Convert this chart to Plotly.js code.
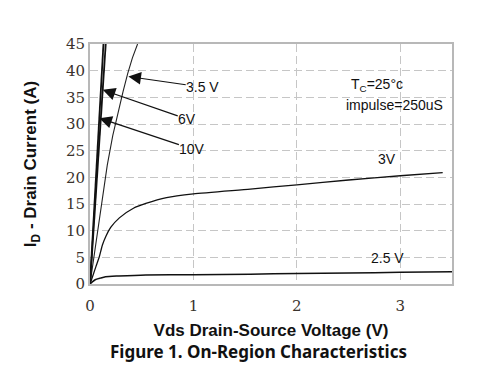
<!DOCTYPE html>
<html>
<head>
<meta charset="utf-8">
<script src="https://cdn.plot.ly/plotly-3.0.1.min.js"></script>
<style>html,body{margin:0;padding:0;background:#fff;}#chart{width:500px;height:375px;}</style>
</head>
<body>
<div id="chart"></div>
<script>
// Vgs = 2.5 V
const vds25 = [0, 0.02, 0.05, 0.1, 0.15, 0.28, 0.54, 1, 1.55, 2, 2.5, 3, 3.5];
const id25  = [0, 0.35, 0.8, 1.1, 1.35, 1.5, 1.7, 1.75, 1.85, 1.95, 2.05, 2.2, 2.3];
// Vgs = 3 V
const vds3 = [0, 0.03, 0.058, 0.09, 0.12, 0.155, 0.2, 0.284, 0.42, 0.54, 0.74, 1, 1.55, 2, 2.5, 3, 3.41];
const id3  = [0, 1.7, 3.3, 5.1, 7.3, 9.0, 10.6, 12.4, 14.2, 15.1, 16.2, 16.9, 17.8, 18.6, 19.5, 20.3, 20.9];
// Vgs = 3.5 V
const vds35 = [0, 0.06, 0.116, 0.167, 0.22, 0.27, 0.32, 0.365, 0.41, 0.46];
const id35  = [0, 8.2, 15.6, 22.3, 27.8, 32.2, 36.1, 39.5, 42.4, 45];
// Vgs = 6 V
const vds6 = [0, 0.035, 0.078, 0.118, 0.152];
const id6  = [0, 10.5, 23, 35, 45];
// Vgs = 10 V
const vds10 = [0, 0.03, 0.065, 0.1, 0.13];
const id10  = [0, 10.5, 22.5, 34.6, 45];

const yTicks = [0, 5, 10, 15, 20, 25, 30, 35, 40, 45];
const xTicks = [0, 1, 2, 3];

const ink = '#111111';
const traces = [
  {x: vds25, y: id25, mode: 'lines', line: {color: ink, width: 1.5, shape: 'spline', smoothing: 0.6}, name: '2.5 V'},
  {x: vds3, y: id3, mode: 'lines', line: {color: ink, width: 1.3, shape: 'spline', smoothing: 0.6}, name: '3V'},
  {x: vds35, y: id35, mode: 'lines', line: {color: '#222', width: 1.1}, name: '3.5 V'},
  {x: vds6, y: id6, mode: 'lines', line: {color: ink, width: 1.8}, name: '6V'},
  {x: vds10, y: id10, mode: 'lines', line: {color: ink, width: 1.8}, name: '10V'}
];

const lblFont = {family: '"Liberation Sans", Arial, sans-serif', size: 14, color: '#111'};
function pointer(t, x, y, ax, ay) {
  return {x: x, y: y, ax: ax, ay: ay, xref: 'x', yref: 'y', axref: 'x', ayref: 'y',
    text: t, font: lblFont, borderpad: 0,
    showarrow: true, arrowhead: 2, arrowsize: 2.1, arrowwidth: 1.2, arrowcolor: '#111', standoff: 0};
}
function label(t, x, y) {
  return {x: x, y: y, xref: 'x', yref: 'y', text: t, showarrow: false, xanchor: 'center', yanchor: 'middle', font: lblFont};
}

const annotations = [
  pointer('3.5 V', 0.371, 38.9, 1.09, 36.9),
  pointer('6V', 0.123, 36.4, 0.94, 30.9),
  pointer('10V', 0.090, 31.1, 0.99, 25.3),
  label('3V', 2.87, 23.4),
  label('2.5 V', 2.875, 4.93),
  label('T<sub>C</sub>=25°c', 2.77, 37.3),
  label('impulse=250uS', 2.94, 33.6)
];

const tickFont = {family: 'DejaVu Serif, Liberation Serif, serif', size: 15, color: '#3a332d'};
const layout = {
  width: 500, height: 375,
  margin: {l: 90, r: 48, t: 44, b: 91},
  paper_bgcolor: '#fff', plot_bgcolor: '#fff',
  showlegend: false,
  title: {
    text: '<b>Figure 1. On-Region Characteristics</b>',
    font: {family: 'Noto Sans, sans-serif', size: 17, color: '#111'},
    xref: 'container', yref: 'container', x: 0.517, y: 0.06, xanchor: 'center', yanchor: 'middle'
  },
  xaxis: {
    range: [0, 3.5], tickvals: xTicks, ticktext: xTicks.map(String),
    showline: true, mirror: true, linecolor: '#b8b8b8', linewidth: 2,
    showgrid: true, gridcolor: '#c6c6c6', gridwidth: 1, griddash: '8px,4px',
    zeroline: false, ticks: '', tickfont: tickFont, ticklabelstandoff: 7,
    title: {text: '<b>Vds Drain-Source Voltage (V)</b>', standoff: 10,
      font: {family: 'Liberation Sans, Arial, sans-serif', size: 17, color: '#111'}}
  },
  yaxis: {
    range: [0, 45], tickvals: yTicks, ticktext: yTicks.map(String),
    showline: true, mirror: true, linecolor: '#b8b8b8', linewidth: 2,
    showgrid: true, gridcolor: '#c6c6c6', gridwidth: 1, griddash: '8px,4px',
    zeroline: false, ticks: '', tickfont: tickFont,
    title: {text: '<b>I<sub>D</sub> - Drain Current (A)</b>', standoff: 25,
      font: {family: 'Liberation Sans, Arial, sans-serif', size: 17, color: '#111'}}
  },
  annotations: annotations
};

Plotly.newPlot('chart', traces, layout, {displayModeBar: false, staticPlot: true});
</script>
</body>
</html>
